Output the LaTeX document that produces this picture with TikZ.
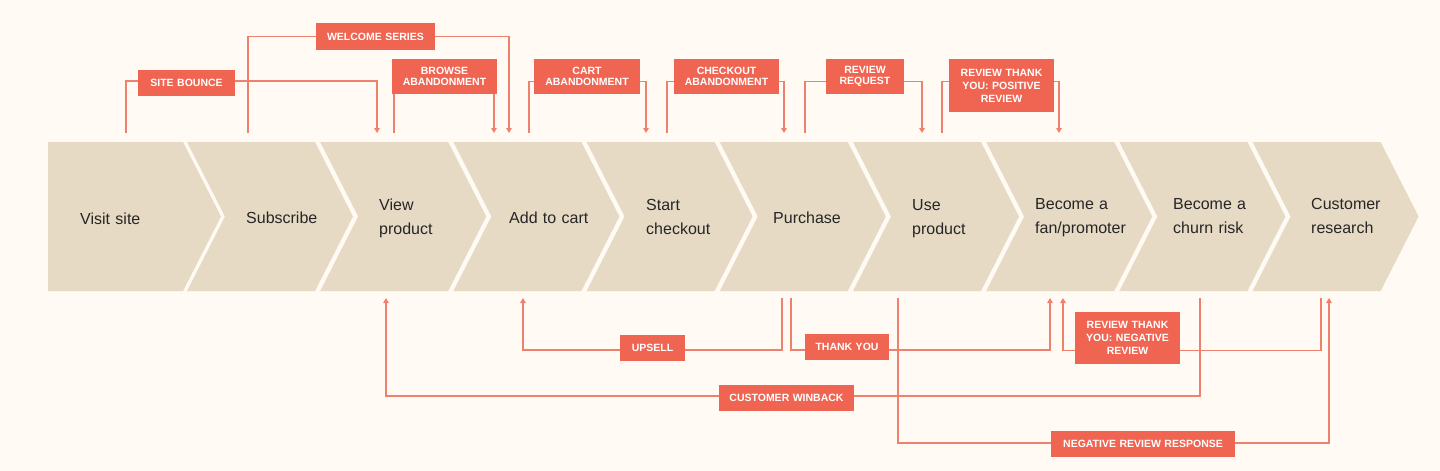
\documentclass[tikz,border=0pt]{standalone}
\usepackage{fontspec}
\setmainfont{Liberation Sans}
\usetikzlibrary{arrows.meta}
\definecolor{bg}{HTML}{FFFAF3}
\definecolor{chev}{HTML}{E6DAC4}
\definecolor{lblred}{HTML}{EF6552}
\definecolor{conncol}{HTML}{F0806E}
\definecolor{txt}{HTML}{262626}
\begin{document}
\begin{tikzpicture}[x=1pt,y=-1pt,
  conn/.style={draw=conncol, line width=1.2pt},
  arr/.style={conn,-{Triangle[width=5.5pt,length=5pt]}},
  lbl/.style={fill=lblred, text=white, inner sep=0pt, align=center, font=\fontsize{10.5}{11}\selectfont\bfseries},
  lblthree/.style={lbl, font=\fontsize{10.5}{13}\selectfont\bfseries},
  chevtext/.style={text=txt, anchor=base west, align=left, text width=130pt, inner sep=0pt, font=\fontsize{16}{24.5}\selectfont},
]
\fill[bg] (0,0) rectangle (1440,471);
\useasboundingbox (0,0) rectangle (1440,471);

% chevrons
\fill[chev] (48,142) -- (183,142) -- (221,216.5) -- (183,291) -- (48,291) -- cycle;
\foreach \i in {1,...,9} {
  \pgfmathsetmacro\L{187+133.2*(\i-1)}
  \pgfmathsetmacro\R{\L+128}
  \fill[chev] (\L,142) -- (\R,142) -- (\R+38,216.5) -- (\R,291) -- (\L,291) -- (\L+38,216.5) -- cycle;
}

% stage texts
\node[chevtext] (t0) at (80,224) {Visit site};
\node[chevtext] (t1) at (246,223) {Subscribe};
\node[chevtext] (t2) at (379,210) {View\\product};
\node[chevtext] (t3) at (509,223) {Add to cart};
\node[chevtext] (t4) at (646,210) {Start\\checkout};
\node[chevtext] (t5) at (773,223) {Purchase};
\node[chevtext] (t6) at (912,210) {Use\\product};
\node[chevtext] (t7) at (1035,209) {Become a\\fan/promoter};
\node[chevtext] (t8) at (1173,209) {Become a\\churn risk};
\node[chevtext] (t9) at (1311,209) {Customer\\research};

% connector end points
\coordinate (sbS) at (126,133);  \coordinate (sbE) at (377,133);
\coordinate (wsS) at (248,133);  \coordinate (wsE) at (509,133);
\coordinate (baS) at (394,133);  \coordinate (baE) at (494,133);
\coordinate (caS) at (529,133);  \coordinate (caE) at (646,133);
\coordinate (coS) at (667,133);  \coordinate (coE) at (784,133);
\coordinate (rrS) at (805,133);  \coordinate (rrE) at (922,133);
\coordinate (rpS) at (942,133);  \coordinate (rpE) at (1059,133);
\coordinate (upS) at (782,298);  \coordinate (upE) at (523,298);
\coordinate (tyS) at (791,298);  \coordinate (tyE) at (1050,298);
\coordinate (cwS) at (1200,298); \coordinate (cwE) at (386,298);
\coordinate (rnS) at (1321,298); \coordinate (rnE) at (1063,298);
\coordinate (nrS) at (898,298);  \coordinate (nrE) at (1329,298);

% connectors
\draw[arr] (sbS) |- (sbE |- 0,81) -- (sbE);
\draw[arr] (wsS) |- (wsE |- 0,36.7) -- (wsE);
\draw[arr] (baS) |- (baE |- 0,76) -- (baE);
\draw[arr] (caS) |- (caE |- 0,81.7) -- (caE);
\draw[arr] (coS) |- (coE |- 0,81.7) -- (coE);
\draw[arr] (rrS) |- (rrE |- 0,81.7) -- (rrE);
\draw[arr] (rpS) |- (rpE |- 0,81.7) -- (rpE);
\draw[arr] (upS) |- (upE |- 0,350) -- (upE);
\draw[arr] (tyS) |- (tyE |- 0,350) -- (tyE);
\draw[arr] (cwS) |- (cwE |- 0,396) -- (cwE);
\draw[arr] (rnS) |- (rnE |- 0,350.7) -- (rnE);
\draw[arr] (nrS) |- (nrE |- 0,443) -- (nrE);

% labels
\node[lbl, minimum width=97pt, text width=97pt, minimum height=26pt] (sb) at (186.5,83) {SITE BOUNCE};
\node[lbl, minimum width=119pt, text width=119pt, minimum height=27pt] (ws) at (375.5,36.5) {WELCOME SERIES};
\node[lbl, minimum width=105pt, text width=105pt, minimum height=35pt] (ba) at (444.5,76.5) {BROWSE\\ABANDONMENT};
\node[lbl, minimum width=106pt, text width=106pt, minimum height=35pt] (ca) at (587,76.5) {CART\\ABANDONMENT};
\node[lbl, minimum width=105pt, text width=105pt, minimum height=35pt] (co) at (726.5,76.5) {CHECKOUT\\ABANDONMENT};
\node[lbl, minimum width=78pt, text width=78pt, minimum height=35pt] (rr) at (865,76.5) {REVIEW\\REQUEST};
\node[lblthree, minimum width=105pt, text width=105pt, minimum height=53pt] (rp) at (1001.5,85.5) {REVIEW THANK\\YOU: POSITIVE\\REVIEW};
\node[lbl, minimum width=65pt, text width=65pt, minimum height=26pt] (up) at (652.5,348) {UPSELL};
\node[lbl, minimum width=84pt, text width=84pt, minimum height=26pt] (ty) at (847,347) {THANK YOU};
\node[lbl, minimum width=135pt, text width=135pt, minimum height=26pt] (cw) at (786.5,398) {CUSTOMER WINBACK};
\node[lblthree, minimum width=105pt, text width=105pt, minimum height=52pt] (rn) at (1127.5,338) {REVIEW THANK\\YOU: NEGATIVE\\REVIEW};
\node[lbl, minimum width=184pt, text width=184pt, minimum height=26pt] (nr) at (1143,444) {NEGATIVE REVIEW RESPONSE};
\end{tikzpicture}
\end{document}
